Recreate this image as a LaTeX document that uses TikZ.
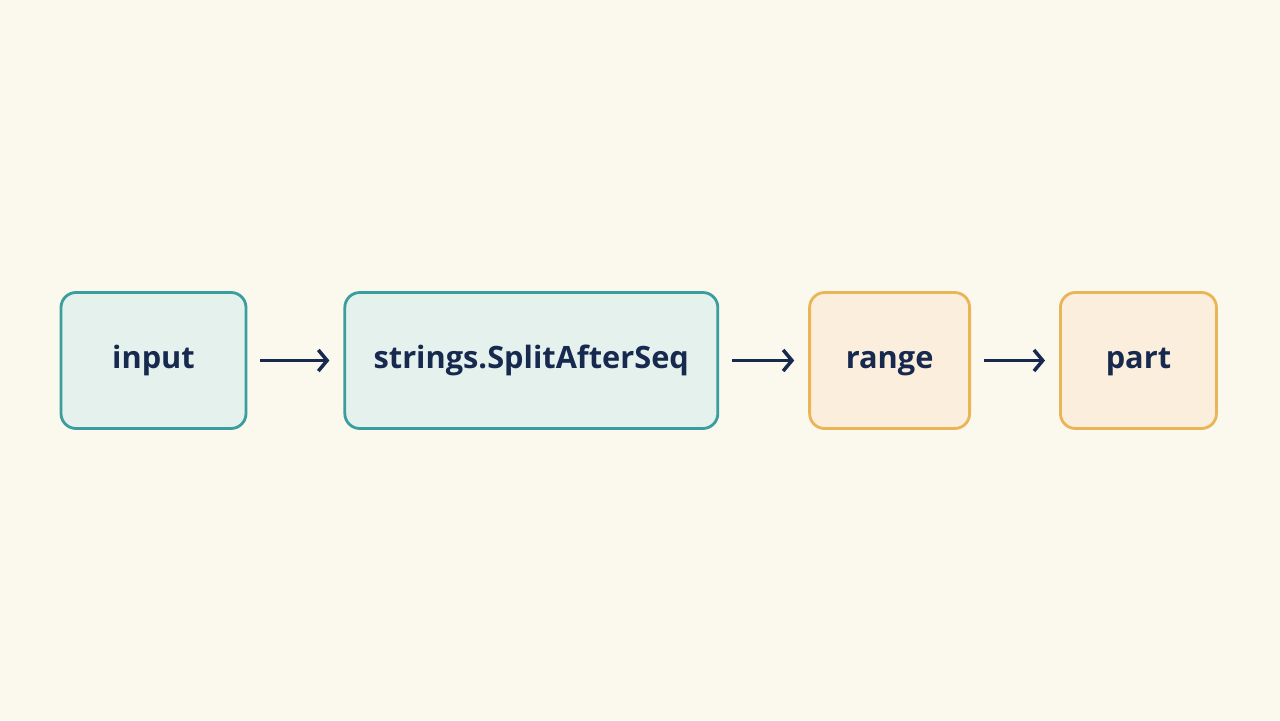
\documentclass[tikz,border=0pt]{standalone}
\usepackage{fontspec}
\setmainfont{Open Sans}
\usetikzlibrary{positioning,arrows.meta}
\definecolor{bgpaper}{HTML}{FBF8EE}
\definecolor{tealline}{HTML}{3A9E9E}
\definecolor{tealfill}{HTML}{E4F1EC}
\definecolor{orangeline}{HTML}{E9B556}
\definecolor{orangefill}{HTML}{FCEEDC}
\definecolor{navy}{HTML}{17294F}

\begin{document}
\begin{tikzpicture}[font=\fontsize{17.5}{21}\selectfont\bfseries, text=navy]
    \tikzstyle{stage}=[rectangle, rounded corners=0.3cm, line width=1.6pt, minimum height=2.72cm, inner sep=0pt, text height=2.1ex, text depth=0.3ex]
    \tikzstyle{tealbox}=[stage, draw=tealline, fill=tealfill]
    \tikzstyle{orangebox}=[stage, draw=orangeline, fill=orangefill]
    \tikzstyle{flow}=[-{Straight Barb[length=5pt,width=12pt]}, draw=navy, line width=2pt, shorten <=0.26cm, shorten >=0.28cm]

    % canvas
    \fill[bgpaper] (0,0) rectangle (25.6,-14.4);
    \useasboundingbox (0,0) rectangle (25.6,-14.4);

    %%% DRAW THE NODES
    \node[tealbox, minimum width=3.7cm] (input) at (3.07,-7.21) {input};
    \node[tealbox, minimum width=7.46cm, right=1.92cm of input] (split) {strings.SplitAfterSeq};
    \node[orangebox, minimum width=3.2cm, right=1.78cm of split] (range) {range};
    \node[orangebox, minimum width=3.12cm, right=1.76cm of range] (part) {part};

    %%% DRAW THE PATHS
    \draw[flow] (input) -- (split);
    \draw[flow] (split) -- (range);
    \draw[flow] (range) -- (part);
\end{tikzpicture}
\end{document}
